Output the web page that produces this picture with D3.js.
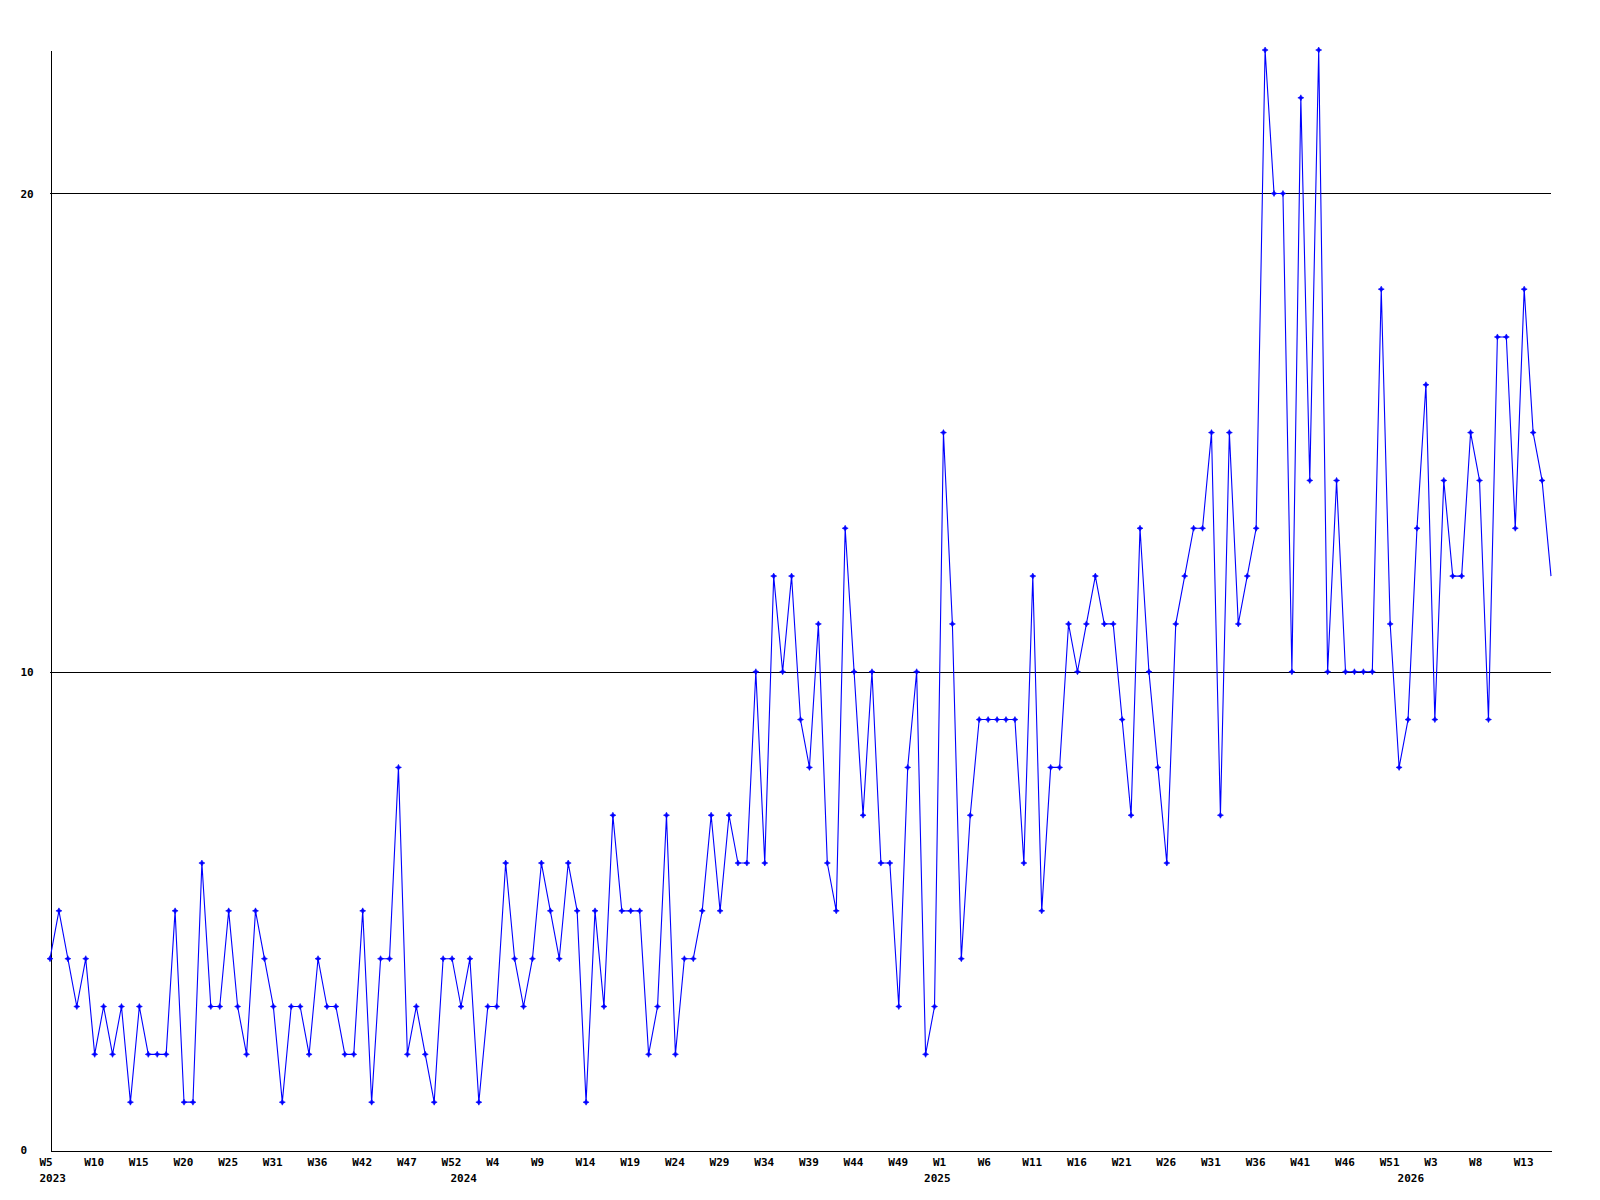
<!DOCTYPE html>
<html>
<head>
<meta charset="utf-8">
<script src="https://cdn.jsdelivr.net/npm/d3@7"></script>
<style>
  html, body { margin: 0; padding: 0; background: #ffffff; }
  svg { display: block; }
  text { font-family: "DejaVu Sans Mono", "Liberation Mono", monospace; font-weight: bold; font-size: 11px; fill: #000; }
</style>
</head>
<body>
<svg id="chart" width="1600" height="1200"></svg>
<script>
// ---- data ----
const values = [
  4,5,4,3,4,2,3,2,3,1,
  3,2,2,2,5,1,1,6,3,3,
  5,3,2,5,4,3,1,3,3,2,
  4,3,3,2,2,5,1,4,4,8,
  2,3,2,1,4,4,3,4,1,3,
  3,6,4,3,4,6,5,4,6,5,
  1,5,3,7,5,5,5,2,3,7,
  2,4,4,5,7,5,7,6,6,10,
  6,12,10,12,9,8,11,6,5,13,
  10,7,10,6,6,3,8,10,2,3,
  15,11,4,7,9,9,9,9,9,6,
  12,5,8,8,11,10,11,12,11,11,
  9,7,13,10,8,6,11,12,13,13,
  15,7,15,11,12,13,23,20,20,10,
  22,14,23,10,14,10,10,10,10,18,
  11,8,9,13,16,9,14,12,12,15,
  14,9,17,17,13,18,15,14,12
];
const weekLabels = ["W5","W10","W15","W20","W25","W31","W36","W42","W47","W52",
  "W4","W9","W14","W19","W24","W29","W34","W39","W44","W49",
  "W1","W6","W11","W16","W21","W26","W31","W36","W41","W46",
  "W51","W3","W8","W13"];
const weekTickStep = 5;
const yearLabels = ["2023","2024","2025","2026"];
const yearTickIndex = [0,46,99,152];
const yTicks = [0,10,20];
const yGrid = [10,20];
const yMax = 23;

// ---- layout ----
const plotLeft = 50, plotRight = 1551, plotTop = 50, plotBottom = 1150;
const svg = d3.select("#chart");

const x = d3.scaleLinear().domain([0, values.length - 1]).range([plotLeft, plotRight]);
const y = d3.scaleLinear().domain([0, yMax]).range([plotBottom, plotTop]);

// gridlines
svg.append("g").selectAll("line").data(yGrid).join("line")
  .attr("x1", plotLeft).attr("x2", plotRight)
  .attr("y1", d => Math.round(y(d)) + 0.5).attr("y2", d => Math.round(y(d)) + 0.5)
  .attr("stroke", "#000").attr("stroke-width", 1).attr("shape-rendering", "crispEdges");

// x axis: week labels
const weekTickIdx = weekLabels.map((_, i) => i * weekTickStep);
const xAxis = d3.axisBottom(x).tickValues(weekTickIdx)
  .tickFormat((d, i) => weekLabels[i]).tickSize(0).tickSizeOuter(0);
const gx = svg.append("g").attr("transform", `translate(0,${plotBottom + 0.5})`).call(xAxis);
gx.attr("font-family", null).attr("font-size", null);
gx.select(".domain").attr("stroke", "#000").attr("shape-rendering", "crispEdges");
gx.selectAll("text").attr("text-anchor", "start").attr("dx", -11).attr("y", 15).attr("dy", 0);

// x axis: year labels
const yearAxis = d3.axisBottom(x).tickValues(yearTickIndex)
  .tickFormat((d, i) => yearLabels[i]).tickSize(0).tickSizeOuter(0);
const gyear = svg.append("g").attr("transform", `translate(0,${plotBottom + 0.5})`).call(yearAxis);
gyear.attr("font-family", null).attr("font-size", null);
gyear.select(".domain").remove();
gyear.selectAll("text").attr("text-anchor", "start").attr("dx", -11).attr("y", 31).attr("dy", 0);

// y axis
const yAxis = d3.axisLeft(y).tickValues(yTicks).tickFormat(d3.format("d")).tickSize(0).tickSizeOuter(0);
const gy = svg.append("g").attr("transform", `translate(${plotLeft + 0.5},0)`).call(yAxis);
gy.attr("font-family", null).attr("font-size", null);
gy.select(".domain").attr("stroke", "#000").attr("shape-rendering", "crispEdges");
gy.selectAll("text").attr("text-anchor", "start").attr("x", -30).attr("dy", "0.32em");

// series line
const line = d3.line().x((d, i) => x(i)).y(d => y(d));
svg.append("path").datum(values)
  .attr("d", line)
  .attr("fill", "none").attr("stroke", "#0000ff").attr("stroke-width", 1.1);

// markers
const diamond = "M0,-3L1,-1L3,0L1,1L0,3L-1,1L-3,0L-1,-1Z";
svg.append("g").selectAll("path").data(values.slice(0, values.length - 1)).join("path")
  .attr("d", diamond)
  .attr("transform", (d, i) => `translate(${x(i)},${y(d)})`)
  .attr("fill", "#0000ff").attr("stroke", "#0000ff").attr("stroke-width", 0.6);
</script>
</body>
</html>
